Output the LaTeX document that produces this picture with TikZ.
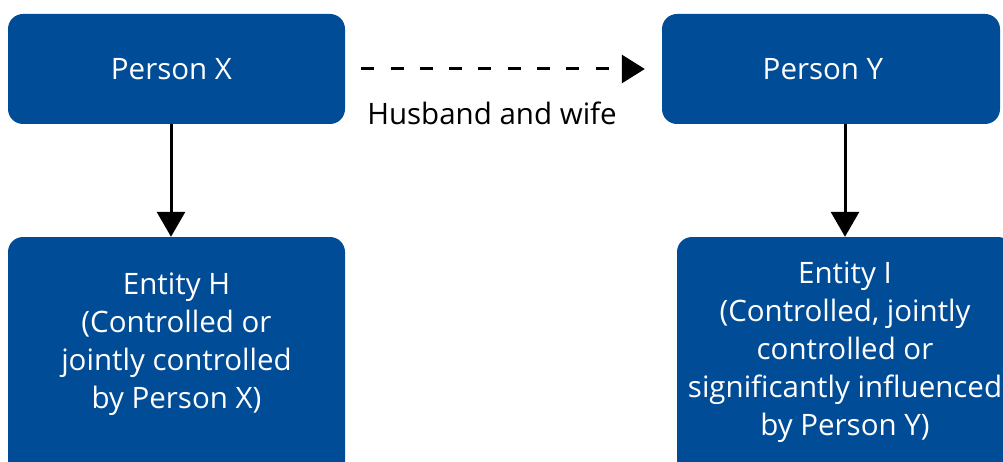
\documentclass[tikz,border=0pt]{standalone}
\usepackage{fontspec}
\setmainfont{Open Sans}
\usetikzlibrary{arrows.meta}
\definecolor{boxblue}{RGB}{0,76,151}
\begin{document}
\begin{tikzpicture}[x=1pt,y=1pt,
  box/.style={fill=boxblue, draw=none, rounded corners=15pt, inner sep=0pt},
  boxtext/.style={text=white, font=\fontsize{29.5}{38}\selectfont, align=center, inner sep=0pt},
  conn/.style={line width=3pt, -{Triangle[width=28pt,length=25pt]}},
  relconn/.style={line width=3pt, dash pattern=on 13pt off 16.3pt, dash phase=13.3pt, -{Triangle[width=28pt,length=23pt]}, shorten >=17pt},
  lbltext/.style={text=black, font=\fontsize{29.5}{34}\selectfont, inner sep=0pt}
]
\useasboundingbox (0,0) rectangle (1003,461);
\clip (0,0) rectangle (1003,461);
\node[box, minimum width=337pt, minimum height=110pt] (X) at (176.5,392) {};
\node[boxtext] (Xt) at (171.5,392) {Person X};
\node[box, minimum width=338pt, minimum height=110pt] (Y) at (831,392) {};
\node[boxtext] (Yt) at (823,392) {Person Y};
\node[box, minimum width=337pt, minimum height=260pt] (Hbox) at (176.5,94) {};
\node[boxtext, anchor=base] (H) at (176.5,53) {Entity H\\(Controlled or\\jointly controlled\\by Person X)};
\node[box, minimum width=336pt, minimum height=260pt] (Ibox) at (845,94) {};
\node[boxtext, anchor=base] (I) at (845,26) {Entity I\\(Controlled, jointly\\controlled or\\significantly influenced\\by Person Y)};
\draw[conn] ([xshift=-5.5pt]X.south) -- ([xshift=-5.5pt]Hbox.north);
\draw[conn] ([xshift=14pt]Y.south) -- (Ibox.north);
\draw[relconn] (X.east) -- (Y.west);
\node[lbltext, anchor=base] (lbl) at (492,336) {Husband and wife};
\end{tikzpicture}
\end{document}
